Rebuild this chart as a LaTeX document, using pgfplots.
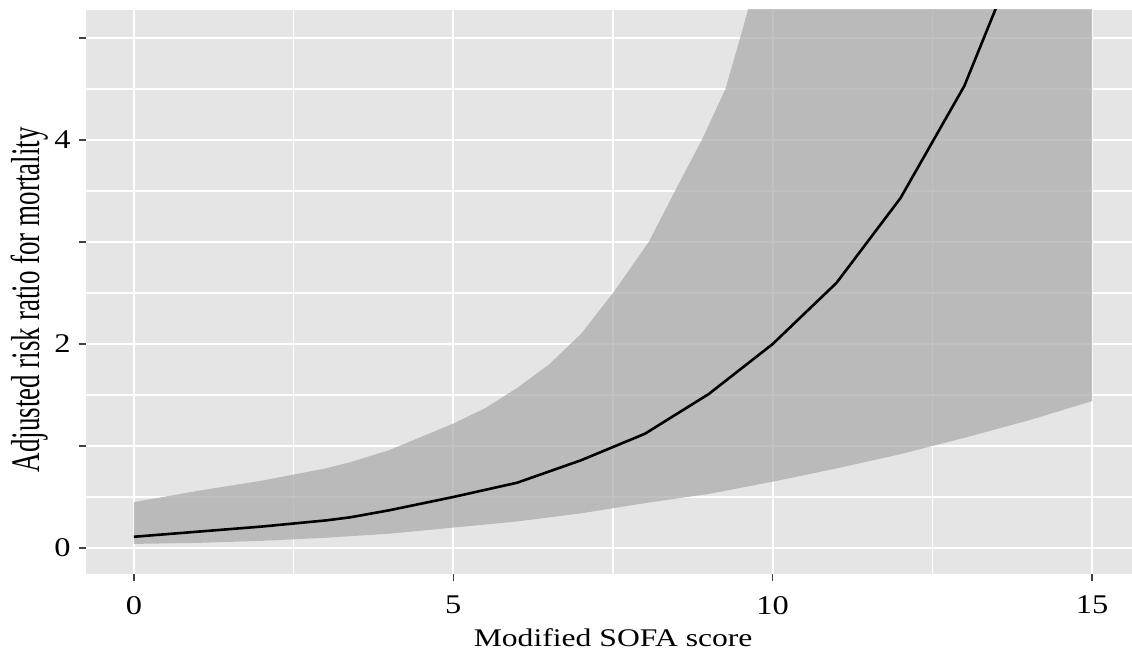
\documentclass[border=0pt]{standalone}
\usepackage{fontspec}
\setmainfont{Liberation Serif}
\usepackage{pgfplots}
\pgfplotsset{compat=1.18}
\usepgfplotslibrary{fillbetween}
\definecolor{panel}{RGB}{229,229,229}
\definecolor{ribbon}{RGB}{168,168,168}
\begin{document}
\begin{tikzpicture}
\begin{axis}[
  at={(0,0)}, anchor=south west,
  width=523pt, height=282pt, scale only axis,
  xmin=-0.75, xmax=15.625, ymin=-0.255, ymax=5.275,
  axis line style={draw=none},
  axis background/.style={fill=panel},
  xtick={0,5,10,15},
  minor xtick={2.5,7.5,12.5},
  ytick={0,1,2,3,4,5},
  yticklabels={0,,2,,4,},
  minor ytick={0.5,1.5,2.5,3.5,4.5},
  grid=both,
  major grid style={white, line width=1.1pt},
  minor grid style={white, line width=0.8pt},
  tick align=outside,
  tick pos=left,
  major tick length=3.5pt, minor tick length=0pt,
  tick style={color=black!75, line width=0.6pt},
  no markers,
  /pgf/number format/assume math mode=true,
  ticklabel style={font=\fontsize{13.5}{15}\selectfont, xscale=1.2},
  xticklabel style={yshift=-4pt},
  every axis x label/.style={at={(axis description cs:0.504,-0.1285)}, anchor=base, xscale=1.245, font=\fontsize{12.7}{15}\selectfont},
  every axis y label/.style={at={(axis description cs:-0.0535,0.486)}, anchor=center, rotate=90, yscale=1.5, font=\fontsize{13.5}{15}\selectfont},
  xlabel={Modified SOFA score},
  ylabel={Adjusted risk ratio for mortality},
]
\addplot[draw=none, name path=up] coordinates {
(0,0.45) (1,0.56) (2,0.66) (2.5,0.72) (3,0.78) (3.38,0.84) (4,0.96) (5,1.22)
(5.5,1.37) (6,1.57) (6.5,1.8) (7,2.1) (7.5,2.5) (8.06,3.0) (8.47,3.5) (8.89,4.0)
(9.26,4.5) (9.49,5.0) (9.61,5.27) (10,6.5) (15,6.5)};
\addplot[draw=none, name path=lo] coordinates {
(0,0.04) (1,0.05) (2,0.07) (3,0.10) (4,0.14) (5,0.20) (6,0.26) (7,0.34)
(7.5,0.39) (8,0.44) (9,0.53) (10,0.65) (11,0.78) (12,0.92) (12.5,1.0)
(13,1.08) (14,1.25) (15,1.44)};
\addplot[fill=ribbon, fill opacity=0.7, draw=none] fill between[of=up and lo];
\addplot[black, line width=1.3pt] coordinates {
(0,0.11) (1,0.16) (2,0.21) (3,0.27) (3.38,0.30) (4,0.37) (5,0.50) (6,0.64)
(7,0.86) (7.5,0.99) (8,1.12) (9,1.51) (10,2.0) (11,2.6) (12,3.43) (13,4.53)
(13.48,5.27) (14,6.1)};
\end{axis}
\pgfresetboundingbox
\path[use as bounding box] (-43pt,-39pt) rectangle (523pt,287pt);
\end{tikzpicture}
\end{document}
